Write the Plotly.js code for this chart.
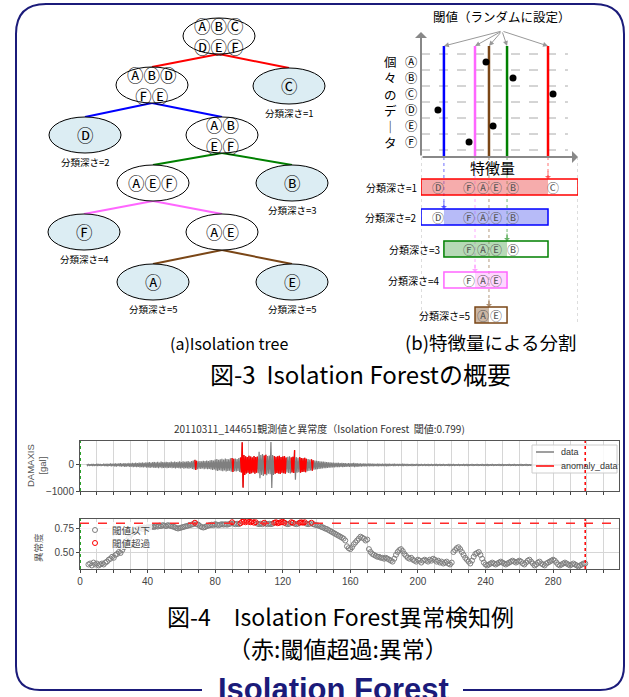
<!DOCTYPE html>
<html><head><meta charset="utf-8">
<script src="https://cdn.plot.ly/plotly-3.0.1.min.js"></script>
<style>html,body{margin:0;padding:0;background:#fff}#chart{width:629px;height:697px}</style>
</head><body><div id="chart"></div>
<script>
// ================= DATA =================
// (b) feature split diagram
const dataLetters = ['Ⓐ','Ⓑ','Ⓒ','Ⓓ','Ⓔ','Ⓕ'];
const featureValues = [41.4, 58.6, 84.1, 10.8, 45.9, 30.6];
const thresholdValues = [80.9, 14.6, 54.8, 34.4, 43.3];   // split at depth 1..5
const depthLabels = ['分類深さ=1','分類深さ=2','分類深さ=3','分類深さ=4','分類深さ=5'];
const dataAxisLabel = ['個','々','の','デ','｜','タ'];

// (a) isolation tree
const treeNodeLabels = ['ⒶⒷⒸ<br>ⒹⒺⒻ','ⒶⒷⒹ<br>ⒻⒺ','Ⓒ','Ⓓ','ⒶⒷ<br>ⒺⒻ','ⒶⒺⒻ','Ⓑ','Ⓕ','ⒶⒺ','Ⓐ','Ⓔ'];
const treeNodeDepth  = [0,1,1,2,2,3,3,4,4,5,5];
const treeNodeParent = [-1,0,0,1,1,4,4,5,5,8,8];
const treeNodeLeaf   = [false,false,true,true,false,false,true,true,false,true,true];

// waveform envelope (gal), one value per second starting at t=4
const waveStart = 4;
const waveAmp = [
 25,35,30,40,35,30,45,35,40,30,
 45,40,50,35,55,45,50,60,45,55,
 65,50,70,60,55,75,65,80,70,85,
 75,90,80,95,85,100,90,110,95,105,
 115,100,120,95,125,110,105,120,115,100,
 125,110,130,115,120,135,110,140,125,130,
 145,120,150,170,195,160,140,150,135,160,
 145,165,150,175,190,170,210,230,200,220,
 240,210,250,230,220,260,270,240,250,230,
 270,290,870,380,330,300,350,320,290,340,
 300,320,510,380,420,360,390,340,360,880,
 380,340,310,330,350,300,320,340,290,310,
 330,290,310,570,300,280,300,270,260,280,
 240,230,210,220,180,170,160,150,140,130,
 125,120,110,105,100,95,90,85,80,85,
 75,80,70,75,65,70,60,65,80,60,
 70,55,60,50,55,50,45,55,45,50,
 45,40,50,45,40,45,40,50,40,45,
 35,40,45,35,40,35,40,45,35,40,
 35,30,40,35,30,35,40,30,35,30,
 35,30,40,30,35,30,35,40,30,35,
 30,35,30,30,40,35,30,35,30,30,
 35,30,30,35,30,40,30,30,35,30,
 30,35,30,30,35,30,30,40,30,30,
 35,30,30,30,35,30,35,30,30,30,
 35,30,30,35,30,30,30,35,30,30,
 35,30,30,30,35,30,30,30,35,30,
 30,30,35,30,30,30,35,30,30,30,
 30,35,30,30,30,35,30,30,30,30,
 30,30,35,30,30,30,30];

// anomaly score, every 1 s starting at t=5
const scoreStart = 5;
const scores = [
 0.37,0.38,0.36,0.39,0.37,0.38,0.36,0.37,0.38,0.37,
 0.39,0.40,0.42,0.43,0.45,0.44,0.47,0.48,0.50,0.49,
 0.52,0.55,0.58,0.62,0.65,0.68,0.70,0.72,0.73,0.74,
 0.745,0.75,0.74,0.755,0.75,0.76,0.755,0.76,0.765,0.76,
 0.77,0.765,0.775,0.77,0.78,0.775,0.77,0.78,0.775,0.77,
 0.765,0.76,0.75,0.745,0.75,0.755,0.76,0.765,0.77,0.775,
 0.78,0.785,0.79,0.805,0.79,0.785,0.77,0.76,0.755,0.76,
 0.77,0.775,0.78,0.785,0.78,0.79,0.785,0.78,0.785,0.79,
 0.785,0.79,0.785,0.79,0.795,0.81,0.795,0.79,0.795,0.79,
 0.80,0.815,0.82,0.81,0.825,0.815,0.81,0.82,0.805,0.81,
 0.795,0.79,0.795,0.79,0.805,0.795,0.79,0.795,0.79,0.795,
 0.805,0.81,0.80,0.805,0.81,0.815,0.805,0.795,0.79,0.795,
 0.81,0.805,0.795,0.79,0.795,0.805,0.81,0.805,0.81,0.795,
 0.79,0.795,0.805,0.79,0.785,0.78,0.775,0.77,0.76,0.755,
 0.745,0.74,0.73,0.72,0.71,0.70,0.69,0.68,0.67,0.66,
 0.65,0.64,0.62,0.56,0.54,0.53,0.55,0.58,0.60,0.62,
 0.64,0.66,0.65,0.64,0.62,0.63,0.53,0.50,0.48,0.47,
 0.46,0.45,0.45,0.44,0.44,0.43,0.44,0.43,0.42,0.41,
 0.40,0.43,0.47,0.50,0.52,0.53,0.51,0.48,0.46,0.44,
 0.43,0.44,0.42,0.41,0.40,0.42,0.41,0.39,0.41,0.42,
 0.41,0.40,0.42,0.41,0.43,0.42,0.40,0.41,0.39,0.40,
 0.38,0.39,0.40,0.38,0.37,0.39,0.50,0.52,0.54,0.55,
 0.53,0.50,0.47,0.44,0.42,0.40,0.38,0.41,0.45,0.48,
 0.49,0.50,0.47,0.43,0.39,0.37,0.36,0.37,0.38,0.39,
 0.38,0.37,0.38,0.39,0.40,0.39,0.38,0.37,0.38,0.39,
 0.40,0.41,0.40,0.39,0.40,0.41,0.40,0.38,0.37,0.39,
 0.41,0.42,0.40,0.38,0.36,0.37,0.39,0.40,0.38,0.37,
 0.36,0.38,0.39,0.40,0.41,0.42,0.41,0.39,0.37,0.36,
 0.37,0.38,0.39,0.38,0.37,0.36,0.37,0.38,0.37,0.36,
 0.35,0.36,0.37,0.38,0.38];
const scoreThreshold = 0.799;
const endTime = 299;
const xTickLabels = ['0','40','80','120','160','200','240','280'];
const legendTop = ['data','anomaly_data'];
const legendBottom = ['閾値以下','閾値超過'];

// ================= STYLE / LAYOUT =================
const W = 629, H = 697;
const JP = '"Noto Sans CJK JP", "Noto Sans", sans-serif';
const LAT = 'Liberation Sans, Arial, sans-serif';
const splitColors = ['#ff0000','#0000ff','#008000','#ff66ff','#7a4616'];
const splitFills  = ['rgba(238,90,90,0.5)','rgba(95,105,240,0.45)','rgba(80,165,80,0.42)','rgba(255,150,255,0.38)','rgba(140,95,55,0.45)'];
const navy = '#1b1b7a', grayC = '#7f7f7f', redC = '#ff0000';
const shapes = [], ann = [], traces = [];

function txt(x, y, text, size, o) {
  ann.push(Object.assign({xref:'x', yref:'y', x, y, text, showarrow:false,
    font:{family:JP, size, color:'#000'}, xanchor:'center', yanchor:'middle'}, o || {}));
}

// ---- frame ----
shapes.push({type:'path', xref:'x', yref:'y', layer:'above',
  path:'M 202 690 L 40 690 Q 16 690 16 666 L 16 34 Q 16 4 46 4 L 594 4 Q 624 4 624 34 L 624 666 Q 624 690 600 690 L 463 690',
  line:{color:navy, width:2}});
txt(333, 689, '<b>Isolation Forest</b>', 31, {font:{family:LAT, size:31, color:navy}});

// ---- (a) isolation tree ----
const nodePos = [[219,36],[152,85],[289,86],[85,135],[222,135],[153,183],[292,183],[84,232],[222,232],[153,282],[292,282]];
const RX = 36, RY = 18;
treeNodeParent.forEach((p, i) => {
  if (p < 0) return;
  shapes.push({type:'line', xref:'x', yref:'y', x0:nodePos[p][0], y0:nodePos[p][1]+RY,
    x1:nodePos[i][0], y1:nodePos[i][1]-RY, line:{color:splitColors[treeNodeDepth[i]-1], width:2}});
});
treeNodeLabels.forEach((lab, i) => {
  const [cx, cy] = nodePos[i];
  shapes.push({type:'circle', xref:'x', yref:'y', x0:cx-RX, x1:cx+RX, y0:cy-RY, y1:cy+RY,
    fillcolor: treeNodeLeaf[i] ? '#dcedf3' : '#ffffff', line:{color:'#000', width:1}});
  txt(cx, cy, lab, 16.5);
  if (treeNodeLeaf[i]) txt(cx, cy+27, depthLabels[treeNodeDepth[i]-1], 9.5);
});

// ---- (b) split by feature (x2: feature scale, y2: vertical layout) ----
const rowPx = i => 62 + 16*i;
const axisY = 157, axisTop = 32, lineTop = 46;
const boxTop = [179, 209, 241, 272, 307], boxH = 16;
const gridRight = 93.6;
for (let k = 0; k <= dataLetters.length; k++) {
  shapes.push({type:'line', xref:'x2', yref:'y2', layer:'below', x0:0, x1:gridRight,
    y0:rowPx(k)-8, y1:rowPx(k)-8, line:{color:'#aaa', width:1, dash:'dash'}});
}
// row labels as one column of text, line pitch 1.3 x 12.3 = 16 px = row pitch
txt(411, (rowPx(0) + rowPx(dataLetters.length-1))/2, dataLetters.join('<br>'), 12.3);
txt(390, 102, dataAxisLabel.join('<br>'), 12.5, {font:{family:JP, size:12.5, color:'#000'}});
txt(502, 16, '閾値（ランダムに設定）', 12.5);
txt(492, 167, '特徴量', 15);
ann.push({xref:'x2', yref:'y2', axref:'x2', ayref:'y2', x:0, y:axisTop, ax:0, ay:axisY, text:'', showarrow:true,
  arrowhead:1, arrowsize:1, arrowwidth:2, arrowcolor:'#888'});
ann.push({xref:'x2', yref:'y2', axref:'x2', ayref:'y2', x:100, y:axisY, ax:0, ay:axisY, text:'', showarrow:true,
  arrowhead:1, arrowsize:1, arrowwidth:2, arrowcolor:'#888'});
[0, 100].forEach(v => shapes.push({type:'line', xref:'x2', yref:'y2', layer:'below', x0:v, x1:v, y0:axisY, y1:boxTop[4]+boxH+2,
  line:{color:'#bbb', width:1, dash:'dot'}}));
const titleArrowX = (502-421)/1.57;
thresholdValues.forEach((t, d) => {
  shapes.push({type:'line', xref:'x2', yref:'y2', layer:'below', x0:t, x1:t, y0:lineTop, y1:axisY,
    line:{color:splitColors[d], width:2.5}});
  shapes.push({type:'line', xref:'x2', yref:'y2', layer:'below', x0:t, x1:t, y0:axisY, y1:boxTop[d]-2,
    line:{color:splitColors[d], width:1, dash:'dot'}, opacity:0.55});
  ann.push({xref:'x2', yref:'y2', axref:'x2', ayref:'y2', x:t, y:lineTop, ax:titleArrowX, ay:31, text:'',
    showarrow:true, arrowhead:2, arrowsize:1, arrowwidth:1, arrowcolor:'#999'});
  ann.push({xref:'x2', yref:'y2', x:t, y:boxTop[d], ax:0, ay:-9, text:'', showarrow:true,
    arrowhead:1, arrowsize:1, arrowwidth:1, arrowcolor:splitColors[d], opacity:0.6});
});
function spread(v, gap) {
  const o = v.slice();
  for (let it = 0; it < 60; it++) for (let k = 1; k < o.length; k++) {
    const dd = o[k]-o[k-1]; if (dd < gap) { const s = (gap-dd)/2; o[k-1] -= s; o[k] += s; }
  }
  return o;
}
let lo = 0, hi = 100, remaining = dataLetters.map((_, i) => i);
thresholdValues.forEach((t, d) => {
  const y0 = boxTop[d], y1 = boxTop[d] + boxH, cy = (y0+y1)/2;
  const left = remaining.filter(i => featureValues[i] < t), right = remaining.filter(i => featureValues[i] >= t);
  const keepLeft = left.length >= right.length;
  const f0 = keepLeft ? lo : t, f1 = keepLeft ? t : hi;
  shapes.push({type:'rect', xref:'x2', yref:'y2', layer:'below', x0:f0, x1:f1, y0, y1, fillcolor:splitFills[d], line:{width:0}});
  shapes.push({type:'rect', xref:'x2', yref:'y2', layer:'below', x0:lo, x1:hi, y0, y1, line:{color:splitColors[d], width:1.5}});
  const ord = remaining.slice().sort((a, b) => featureValues[a]-featureValues[b]);
  const xs = spread(ord.map(i => featureValues[i]), 8.3);
  ord.forEach((i, k) => ann.push({xref:'x2', yref:'y2', x:xs[k], y:cy, text:dataLetters[i], showarrow:false,
    font:{family:JP, size:12, color:'#555'}}));
  ann.push({xref:'x2', yref:'y2', x:lo, y:cy, xshift:-2, xanchor:'right', text:depthLabels[d], showarrow:false,
    font:{family:JP, size:10, color:'#000'}});
  remaining = keepLeft ? left : right;
  if (keepLeft) hi = t; else lo = t;
});
traces.push({x:featureValues, y:dataLetters.map((_, i) => rowPx(i)), xaxis:'x2', yaxis:'y2', mode:'markers',
  marker:{color:'#000', size:7}, showlegend:false, hoverinfo:'skip'});

// ---- captions ----
txt(229, 343, '(a)Isolation tree', 16);
txt(490, 342, '(b)特徴量による分割', 18.5);
txt(360, 373, '図-3  Isolation Forestの概要', 24);
txt(340, 616, '図-4　Isolation Forest異常検知例', 23);
txt(338, 648, '（赤:閾値超過:異常）', 23);

// ---- time series + anomaly score ----
const scoreT = scores.map((_, i) => scoreStart + i);
const isAnom = scores.map(s => s > scoreThreshold);
const anomAt = {}; scoreT.forEach((t, k) => { anomAt[t] = isAnom[k]; });
const waveT = waveAmp.map((_, i) => waveStart + i);
const gx = [], gy = [], rx = [], ry = [];
waveT.forEach((t, i) => {
  gx.push(t, t+0.5); gy.push(waveAmp[i], -waveAmp[i]);
  if (anomAt[t]) {
    rx.push(t, t+0.5); ry.push(waveAmp[i], -waveAmp[i]);
    if (!anomAt[t+1] && i+1 < waveAmp.length) { rx.push(t+1, null); ry.push(waveAmp[i+1], null); }
  }
});
traces.push({x:gx, y:gy, xaxis:'x3', yaxis:'y3', mode:'lines', line:{color:grayC, width:1.2}, showlegend:false, hoverinfo:'skip'});
traces.push({x:rx, y:ry, xaxis:'x3', yaxis:'y3', mode:'lines', line:{color:redC, width:1.3}, connectgaps:false, showlegend:false, hoverinfo:'skip'});
traces.push({x:scoreT.filter((_, k) => !isAnom[k]), y:scores.filter((_, k) => !isAnom[k]), xaxis:'x4', yaxis:'y4',
  mode:'markers', marker:{symbol:'circle-open', size:5, color:grayC, line:{width:1}}, showlegend:false, hoverinfo:'skip'});
traces.push({x:scoreT.filter((_, k) => isAnom[k]), y:scores.filter((_, k) => isAnom[k]), xaxis:'x4', yaxis:'y4',
  mode:'markers', marker:{symbol:'circle-open', size:5, color:redC, line:{width:1}}, showlegend:false, hoverinfo:'skip'});
traces.push({x:[null], y:[null], xaxis:'x', yaxis:'y', mode:'markers', showlegend:false, hoverinfo:'skip'});

// legends (drawn as boxes, samples and text)
shapes.push({type:'rect', xref:'x', yref:'y', x0:532, x1:617, y0:445, y1:473, fillcolor:'rgba(255,255,255,0.85)', line:{color:'#ccc', width:1}});
[grayC, redC].forEach((c, k) => {
  shapes.push({type:'line', xref:'x', yref:'y', x0:536, x1:554, y0:452+14*k, y1:452+14*k, line:{color:c, width:1.5}});
  txt(559, 452+14*k, legendTop[k], 9, {xanchor:'left', font:{family:LAT, size:9, color:'#333'}});
});
shapes.push({type:'rect', xref:'x', yref:'y', x0:81, x1:152, y0:522, y1:549, fillcolor:'rgba(255,255,255,0.8)', line:{width:0}});
[grayC, redC].forEach((c, k) => {
  shapes.push({type:'circle', xref:'x', yref:'y', x0:92.5, x1:97.5, y0:527.5+13*k, y1:532.5+13*k, line:{color:c, width:1}});
  txt(110, 530+13*k, legendBottom[k], 9.5, {xanchor:'left', font:{family:JP, size:9.5, color:'#444'}});
});

const tick10 = []; for (let v = 0; v <= 310; v += 10) tick10.push(v);
const tickText = tick10.map(v => xTickLabels.includes(String(v)) ? String(v) : '');
const tf = {family:LAT, size:10, color:'#444'};
const xDom = [80/W, 619/W];
const common = {showgrid:true, gridcolor:'#d6d6d6', gridwidth:1, zeroline:false, showline:true, linecolor:'#555',
  linewidth:1, mirror:true, ticks:'outside', ticklen:3, tickcolor:'#444', tickfont:tf, fixedrange:true};

[['x3','y3'], ['x4','y4']].forEach(([xa, ya]) => {
  shapes.push({type:'line', xref:xa, yref:ya+' domain', x0:0, x1:0, y0:0, y1:1, line:{color:'#2ca02c', width:2, dash:'dot'}});
  shapes.push({type:'line', xref:xa, yref:ya+' domain', x0:endTime, x1:endTime, y0:0, y1:1, line:{color:redC, width:1.5, dash:'dot'}});
});
shapes.push({type:'line', xref:'x4 domain', yref:'y4', x0:0, x1:1, y0:scoreThreshold, y1:scoreThreshold, line:{color:'#ff2a2a', width:1.5, dash:'dash'}});

txt(319, 428, '20110311_144651観測値と異常度（Isolation Forest  閾値:0.799)', 10, {font:{family:JP, size:10, color:'#333'}});
txt(36, 466, 'DAMAXIS<br>[gal]', 9.5, {textangle:-90, font:{family:LAT, size:9.5, color:'#555'}});
txt(38, 548, '異常度', 9.5, {textangle:-90, font:{family:JP, size:9.5, color:'#555'}});

const layout = {
  width:W, height:H, margin:{l:0, r:0, t:0, b:0}, paper_bgcolor:'#fff', plot_bgcolor:'rgba(0,0,0,0)',
  xaxis:{domain:[0,1], range:[0,W], visible:false, fixedrange:true},
  yaxis:{domain:[0,1], range:[H,0], visible:false, fixedrange:true},
  xaxis2:{domain:[421/W, 578/W], range:[0,100], visible:false, anchor:'y2', fixedrange:true},
  yaxis2:{domain:[0,1], range:[H,0], visible:false, anchor:'x2', fixedrange:true},
  xaxis3:Object.assign({}, common, {domain:xDom, range:[0,319], anchor:'y3', tickvals:tick10, showticklabels:false}),
  yaxis3:Object.assign({}, common, {domain:[1-491/H, 1-441/H], range:[-1000,920], anchor:'x3', tickvals:[-1000,0], ticktext:['−1000','0']}),
  xaxis4:Object.assign({}, common, {domain:xDom, range:[0,319], anchor:'y4', tickvals:tick10, ticktext:tickText}),
  yaxis4:Object.assign({}, common, {domain:[1-569/H, 1-519/H], range:[0.323,0.844], anchor:'x4', tickvals:[0.5,0.75], ticktext:['0.50','0.75']}),
  shapes, annotations:ann, hovermode:false, showlegend:false
};
Plotly.newPlot('chart', traces, layout, {staticPlot:true, displayModeBar:false});
</script></body></html>
